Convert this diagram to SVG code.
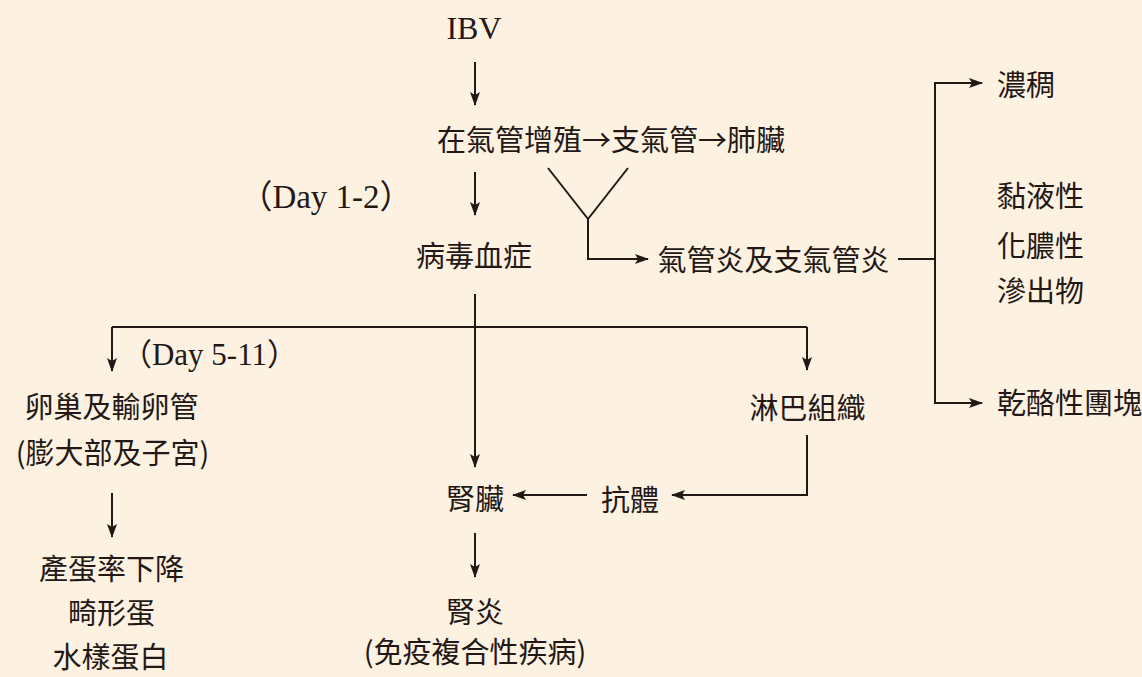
<svg xmlns="http://www.w3.org/2000/svg" width="1142" height="677" viewBox="0 0 1142 677">
<defs>
<style>
.t{font-family:"Noto Sans CJK TC","Noto Sans CJK SC",sans-serif;font-size:29px;fill:#231815;text-anchor:middle}
.s{text-anchor:start}
.l{font-family:"Liberation Serif","Noto Sans CJK TC",serif;fill:#231815;text-anchor:middle}
.c{fill:none;stroke:#231815;stroke-width:2}
.a{marker-end:url(#ah)}
</style>
<marker id="ah" viewBox="0 0 14 10" refX="13" refY="5" markerWidth="14" markerHeight="10" markerUnits="userSpaceOnUse" orient="auto">
<path d="M0,0 L14,5 L0,10 L3,5 Z" fill="#231815"/>
</marker>
</defs>
<rect width="1142" height="677" fill="#fdf2e2"/>
<g id="connectors">
<line class="c a" x1="475" y1="62" x2="475" y2="105"/>
<line class="c a" x1="475" y1="172" x2="475" y2="215"/>
<polyline class="c" points="548,168 588,219 628,168"/>
<path class="c a" d="M588,219 V259 H648"/>
<line class="c" x1="898" y1="259" x2="935" y2="259"/>
<path class="c a" d="M935,259 V83 H982"/>
<path class="c a" d="M935,259 V403 H982"/>
<line class="c" x1="112" y1="327" x2="807" y2="327"/>
<line class="c a" x1="112" y1="327" x2="112" y2="371"/>
<line class="c a" x1="807" y1="327" x2="807" y2="370"/>
<line class="c a" x1="475" y1="294" x2="475" y2="467"/>
<path class="c a" d="M807,435 V495 H672"/>
<line class="c a" x1="587" y1="495" x2="513" y2="495"/>
<line class="c a" x1="475" y1="533" x2="475" y2="577"/>
<line class="c a" x1="112" y1="493" x2="112" y2="537"/>
</g>
<g id="n-ibv"><text class="l" x="474" y="39" font-size="32">IBV</text></g>
<g id="n-trachea"><text class="t" x="611" y="151">在氣管增殖→支氣管→肺臟</text></g>
<g id="n-day12"><text class="l" x="326" y="208" font-size="33">（Day 1-2）</text></g>
<g id="n-viremia"><text class="t" x="474" y="266.5">病毒血症</text></g>
<g id="n-tracheitis"><text class="t" x="773.5" y="270.5">氣管炎及支氣管炎</text></g>
<g id="n-thick"><text class="t s" x="997" y="95.5">濃稠</text></g>
<g id="n-exudate">
<text class="t s" x="997" y="207">黏液性</text>
<text class="t s" x="997" y="257">化膿性</text>
<text class="t s" x="997" y="302">滲出物</text>
</g>
<g id="n-caseous"><text class="t s" x="997" y="413.5">乾酪性團塊</text></g>
<g id="n-day511"><text class="l" x="209.5" y="365" font-size="31">（Day 5-11）</text></g>
<g id="n-ovary">
<text class="t" x="111.5" y="417.5">卵巢及輸卵管</text>
<text class="t" x="112.5" y="463.5">(膨大部及子宮)</text>
</g>
<g id="n-egg">
<text class="t" x="111.5" y="580">產蛋率下降</text>
<text class="t" x="111.5" y="624">畸形蛋</text>
<text class="t" x="110.5" y="668">水樣蛋白</text>
</g>
<g id="n-lymph"><text class="t" x="807.5" y="418.5">淋巴組織</text></g>
<g id="n-antibody"><text class="t" x="630" y="510.5">抗體</text></g>
<g id="n-kidney"><text class="t" x="475" y="509.5">腎臟</text></g>
<g id="n-nephritis">
<text class="t" x="475" y="622.5">腎炎</text>
<text class="t" x="475" y="662.5">(免疫複合性疾病)</text>
</g>
</svg>
